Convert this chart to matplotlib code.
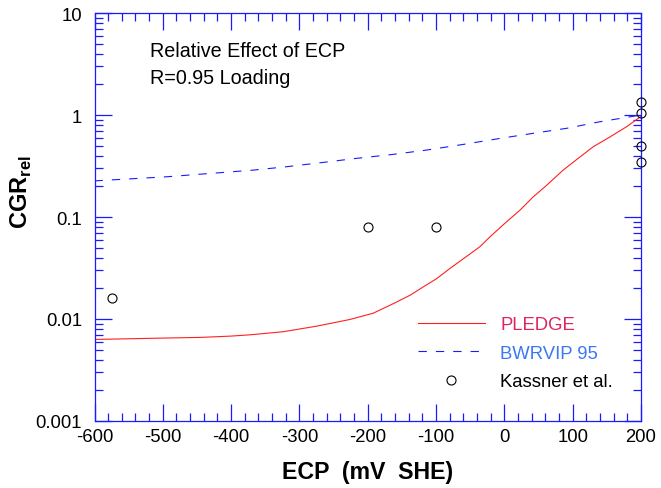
import numpy as np
import matplotlib
matplotlib.use("Agg")
import matplotlib.pyplot as plt
from matplotlib.ticker import MultipleLocator, LogLocator, FixedLocator, FuncFormatter

plt.rcParams['font.family'] = ['Liberation Sans', 'DejaVu Sans']
plt.rcParams['axes.unicode_minus'] = False
plt.rcParams['lines.scale_dashes'] = False
plt.rcParams['mathtext.fontset'] = 'custom'
plt.rcParams['mathtext.rm'] = 'Liberation Sans'
plt.rcParams['mathtext.bf'] = 'Liberation Sans:bold'

# PLEDGE model prediction, relative crack growth rate vs ECP
pledge_ecp = [-600, -500, -445, -400, -372, -324, -275, -226, -192, -163,
              -138, -119, -99, -80, -60, -36, -21, 3, 23, 42, 62, 86,
              106, 130, 155, 179, 200]
pledge_cgr = [0.0063, 0.0065, 0.0066, 0.0068, 0.0070, 0.0075, 0.0085, 0.0099,
              0.0114, 0.0141, 0.0171, 0.0206, 0.0249, 0.0312, 0.039, 0.051,
              0.064, 0.0895, 0.117, 0.157, 0.205, 0.288, 0.367, 0.488, 0.612,
              0.768, 0.97]

# BWRVIP 95 disposition curve
bwrvip_ecp = [-600, -494, -368, -319, -270, -216, -163, -114, -60, -6, 42,
              91, 140, 200]
bwrvip_cgr = [0.226, 0.248, 0.288, 0.311, 0.340, 0.376, 0.411, 0.453, 0.515,
              0.59, 0.661, 0.74, 0.859, 1.0]

# Kassner et al. data
kassner_ecp = [-575, -200, -100, 200, 200, 200, 200]
kassner_cgr = [0.016, 0.08, 0.08, 1.35, 1.05, 0.5, 0.35]

x_ticks = [-600, -500, -400, -300, -200, -100, 0, 100, 200]
y_ticks = [0.001, 0.01, 0.1, 1, 10]
y_tick_labels = ['0.001', '0.01', '0.1', '1', '10']

frame_blue = '#1a1aff'
fs = 13.3

fig = plt.figure(figsize=(6.61, 4.89), dpi=100)
ax = fig.add_axes([94.5 / 661, 1 - 422 / 489, (641 - 94.5) / 661, (422 - 14) / 489])

ax.plot(pledge_ecp, pledge_cgr, color='#ff2020', lw=0.8, label='PLEDGE')
ax.plot(bwrvip_ecp, bwrvip_cgr, color='#1a1aff', lw=0.8, dashes=(6, 6.5),
        label='BWRVIP 95')
ax.plot(kassner_ecp, kassner_cgr, linestyle='none', marker='o', ms=6.5,
        mfc='none', mec='black', mew=0.8, clip_on=False, label='Kassner et al.',
        zorder=5)

ax.set_yscale('log')
ax.set_xlim(-600, 200)
ax.set_ylim(0.001, 10)

ax.xaxis.set_major_locator(FixedLocator(x_ticks))
ax.xaxis.set_minor_locator(MultipleLocator(20))
ax.yaxis.set_major_locator(FixedLocator(y_ticks))
ax.yaxis.set_minor_locator(LogLocator(base=10, subs=np.arange(2, 10)))
ax.yaxis.set_major_formatter(FuncFormatter(lambda v, p: y_tick_labels[y_ticks.index(v)]
                                           if v in y_ticks else ''))
ax.yaxis.set_minor_formatter(FuncFormatter(lambda v, p: ''))
ax.xaxis.set_major_formatter(FuncFormatter(lambda v, p: f'{int(round(v))}'))

for s in ax.spines.values():
    s.set_color(frame_blue)
    s.set_linewidth(0.9)

ax.tick_params(which='both', direction='in', top=True, right=True,
               color=frame_blue, labelcolor='black', labelsize=fs)
ax.tick_params(which='major', length=12.5, width=0.9)
ax.tick_params(which='minor', length=6, width=0.9)
ax.tick_params(axis='x', which='major', pad=5)
ax.tick_params(axis='y', which='major', pad=9)

ax.set_xlabel('ECP  (mV  SHE)', fontsize=16.7, fontweight='bold', labelpad=11)
fig.text(21.5 / 661, 1 - 192 / 489, r'$\mathbf{CGR}_{\mathbf{rel}}$',
         rotation=90, ha='center', va='center', fontsize=17)

ax.text(0.1016, 0.907, 'Relative Effect of ECP', transform=ax.transAxes,
        fontsize=14.2, va='center', ha='left')
ax.text(0.1016, 0.843, 'R=0.95 Loading', transform=ax.transAxes,
        fontsize=14.2, va='center', ha='left')

leg = ax.legend(loc='upper left', bbox_to_anchor=((418 - 94.5) / 546.5, (422 - 317) / 408),
                frameon=False, fontsize=fs, handlelength=3.6, handletextpad=0.85,
                labelspacing=0.63, borderpad=0, borderaxespad=0)
for t, c in zip(leg.get_texts(), ['#e0245e', '#3a78f0', 'black']):
    t.set_color(c)

fig.savefig('out.png', dpi=100)
